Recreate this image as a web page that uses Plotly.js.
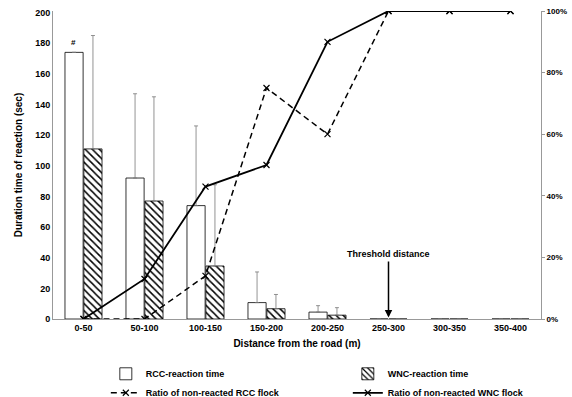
<!DOCTYPE html>
<html><head><meta charset="utf-8">
<script src="https://cdn.plot.ly/plotly-3.0.1.min.js"></script>
<style>html,body{margin:0;padding:0;background:#fff}#chart{width:572px;height:397px}</style>
</head><body><div id="chart"></div>
<script>
const categories = ['0-50','50-100','100-150','150-200','200-250','250-300','300-350','350-400'];
const rccTime = [174, 92, 74, 10.7, 4.5, 0, 0, 0];
const rccErr  = [0, 55, 52, 20, 4.2, 0, 0, 0];
const wncTime = [111, 77, 34.6, 6.7, 2.5, 0, 0, 0];
const wncErr  = [74, 68, 53, 9.3, 4.9, 0, 0, 0];
const rccRatio = [0, 0, 0.14, 0.75, 0.60, 1.00, 1.00, 1.00];
const wncRatio = [0, 0.13, 0.43, 0.50, 0.90, 1.00, 1.00, 1.00];
const yTicks = [0,20,40,60,80,100,120,140,160,180,200];
const y2Ticks = [0,0.2,0.4,0.6,0.8,1.0];

const f = 'Arial, "Liberation Sans", sans-serif';
const traces = [
  {type:'bar', name:'RCC-reaction time', x:categories, y:rccTime,
   marker:{color:'#ffffff', line:{color:'#000', width:0.8}},
   error_y:{type:'data', array:rccErr, arrayminus:rccErr.map(()=>0), symmetric:false, color:'#777', thickness:0.8, width:2}},
  {type:'bar', name:'WNC-reaction time', x:categories, y:wncTime,
   marker:{color:'#ffffff', line:{color:'#000', width:0.8}, pattern:{shape:'\\', fgcolor:'#000', bgcolor:'#fff', size:5, solidity:0.3}},
   error_y:{type:'data', array:wncErr, arrayminus:wncErr.map(()=>0), symmetric:false, color:'#777', thickness:0.8, width:2}},
  {type:'scatter', mode:'lines+markers', name:'Ratio of non-reacted RCC flock', x:categories, y:rccRatio, yaxis:'y2',
   line:{color:'#000', width:1.5, dash:'6px,4px'}, marker:{symbol:'x-thin', size:6, color:'#000', line:{color:'#000', width:1.2}}},
  {type:'scatter', mode:'lines+markers', name:'Ratio of non-reacted WNC flock', x:categories, y:wncRatio, yaxis:'y2',
   line:{color:'#000', width:1.8}, marker:{symbol:'x-thin', size:6, color:'#000', line:{color:'#000', width:1.2}}}
];
const layout = {
  width:572, height:397,
  margin:{l:53, r:31, t:11, b:78},
  paper_bgcolor:'#fff', plot_bgcolor:'#fff',
  font:{family:f, size:9, color:'#000'},
  barmode:'group', bargap:0.38, bargroupgap:0.04,
  showlegend:true,
  legend:{orientation:'h', xref:'container', yref:'container', x:0.185, y:0.095, xanchor:'left', yanchor:'top',
          entrywidth:197, entrywidthmode:'pixels', font:{family:f, size:9, color:'#000', weight:'bold'},
          traceorder:'normal', itemwidth:30, tracegroupgap:0},
  xaxis:{type:'category', categoryarray:categories, showline:true, linecolor:'#999', linewidth:1, ticks:'',
         tickfont:{family:f, size:9, weight:'bold'}, showgrid:false, zeroline:false,
         title:{text:'Distance from the road (m)', font:{family:f, size:10, weight:'bold'}, standoff:8}},
  yaxis:{range:[0,201], tickvals:yTicks, ticktext:yTicks.map(String), showline:true, linecolor:'#999', linewidth:1,
         ticks:'', showgrid:false, zeroline:false, tickfont:{family:f, size:9, weight:'bold'},
         title:{text:'Duration time of reaction (sec)', font:{family:f, size:10, weight:'bold'}, standoff:10}},
  yaxis2:{overlaying:'y', side:'right', range:[0,1.0], tickvals:y2Ticks, tickformat:'.0%', showline:true, linecolor:'#999',
          linewidth:1, ticks:'outside', ticklen:3, tickcolor:'#999', showgrid:false, zeroline:false,
          tickfont:{family:f, size:8, weight:'bold'}},
  annotations:[
    {x:'250-300', y:1, xref:'x', yref:'y', text:'Threshold distance', showarrow:true, arrowhead:2, arrowsize:1,
     arrowwidth:1.5, arrowcolor:'#000', ax:0, ay:-56, font:{family:f, size:9, weight:'bold'}, yanchor:'bottom'},
    {x:0, y:176, xref:'x', yref:'y', xshift:-10, text:'#', showarrow:false, font:{family:f, size:8, weight:'bold'}, yanchor:'bottom'}
  ]
};
Plotly.newPlot('chart', traces, layout, {displayModeBar:false, staticPlot:true});
</script></body></html>
